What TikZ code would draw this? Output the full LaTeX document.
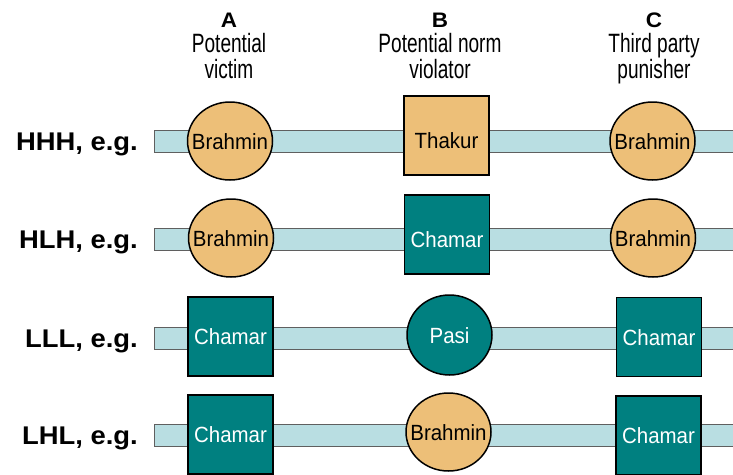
\documentclass[tikz,border=0pt]{standalone}
\usepackage{fontspec}
\usetikzlibrary{shapes.geometric}
\usetikzlibrary{positioning}
\newfontfamily\headfont[FakeStretch=0.72]{Liberation Sans}
\newfontfamily\cellfont[FakeStretch=0.93]{Liberation Sans}
\newfontfamily\rowfont[FakeStretch=1.07]{Liberation Sans}
\definecolor{castehigh}{RGB}{237,191,120}
\definecolor{castelow}{RGB}{0,128,128}
\definecolor{bandfill}{RGB}{185,222,226}
\definecolor{bandline}{RGB}{95,95,95}
% text of a cell, kept out of the shape size
\newcommand{\celltxt}[2][8pt]{\raisebox{-#1}[0pt][0pt]{\makebox[0pt]{#2}}}
\tikzset{
    band/.style = {draw=bandline,line width=1pt,fill=bandfill},
    highnode/.style = {ellipse, line width=1.5pt, draw=black, inner sep=0pt, minimum width=85, minimum height=78, fill=castehigh, text=black, font=\cellfont\fontsize{22}{24}\selectfont},
    lownode/.style = {ellipse, line width=1.5pt, draw=black, inner sep=0pt, minimum width=85, minimum height=80, fill=castelow, text=white, font=\cellfont\fontsize{22}{24}\selectfont},
    highbox/.style = {rectangle, line width=1.5pt, draw=black, inner sep=0pt, minimum width=85, minimum height=79, fill=castehigh, text=black, font=\cellfont\fontsize{22}{24}\selectfont},
    lowbox/.style = {rectangle, line width=1.5pt, draw=black, inner sep=0pt, minimum width=85, minimum height=79, fill=castelow, text=white, font=\cellfont\fontsize{22}{24}\selectfont},
    rowlabel/.style = {anchor=base east, inner sep=0pt, font=\rowfont\bfseries\fontsize{25.6}{28}\selectfont},
    headletter/.style = {anchor=base, inner sep=0pt, font=\rowfont\bfseries\fontsize{21}{23}\selectfont},
    headtext/.style = {anchor=north, inner sep=0pt, align=center, font=\headfont\fontsize{26.5}{26.5}\selectfont}
}
\begin{document}
\begin{tikzpicture}[x=1pt,y=-1pt]
\clip (0,0) rectangle (733,474);
%
\node[headletter] at (229,27) (ha) {A};
\node[headletter] at (440,27) (hb) {B};
\node[headletter] at (654,27) (hc) {C};
\node[headtext] at (229,33) (ta) {Potential\\victim};
\node[headtext] at (440,33) (tb) {Potential norm\\violator};
\node[headtext] at (654,33) (tc) {Third party\\punisher};
%
\foreach \y in {141,239,338,435}
  \draw[band] (154,\y-11) rectangle (745,\y+11);
%
\node[rowlabel] at (138,150) (r1) {HHH, e.g.};
\node[rowlabel] at (138,248) (r2) {HLH, e.g.};
\node[rowlabel] at (138,347) (r3) {LLL, e.g.};
\node[rowlabel] at (138,444) (r4) {LHL, e.g.};
%
\node[highnode] at (230,141) (a1) {\celltxt{Brahmin}};
\node[highbox] at (446.5,135.5) (b1) {\celltxt[12.5pt]{Thakur}};
\node[highnode] at (652.5,141) (c1) {\celltxt{Brahmin}};
%
\node[highnode] at (231,238) (a2) {\celltxt{Brahmin}};
\node[lowbox] at (447,234.5) (b2) {\celltxt[12.5pt]{Chamar}};
\node[highnode] at (653,238) (c2) {\celltxt{Brahmin}};
%
\node[lowbox] at (230.5,336.5) (a3) {\celltxt{Chamar}};
\node[lownode] at (449.5,335) (b3) {\celltxt{Pasi}};
\node[lowbox] at (659,337) (c3) {\celltxt{Chamar}};
%
\node[lowbox] at (230.5,434.5) (a4) {\celltxt{Chamar}};
\node[highnode] at (448.5,432) (b4) {\celltxt{Brahmin}};
\node[lowbox] at (658.5,435.5) (c4) {\celltxt{Chamar}};

\end{tikzpicture}
\end{document}
